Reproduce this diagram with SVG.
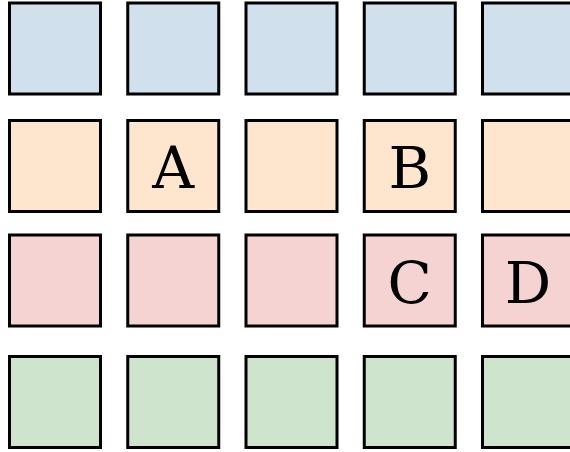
<svg xmlns="http://www.w3.org/2000/svg" width="570" height="452" viewBox="0 0 570 452">
<style>
rect{stroke:#000;stroke-width:3}
.b{fill:#d0e0ed}.o{fill:#fee5cd}.p{fill:#f5d3d3}.g{fill:#cfe4cc}
text{font-family:"DejaVu Serif",serif;font-size:58px;text-anchor:middle;fill:#000}
</style>
<rect width="570" height="452" fill="#fff" style="stroke:none"/>
<g id="r1">
<rect class="b" x="9.5" y="3" width="91" height="91"/>
<rect class="b" x="127.75" y="3" width="91" height="91"/>
<rect class="b" x="246" y="3" width="91" height="91"/>
<rect class="b" x="364.25" y="3" width="91" height="91"/>
<rect class="b" x="482.5" y="3" width="91" height="91"/>
</g>
<g id="r2">
<rect class="o" x="9.5" y="120.5" width="91" height="91"/>
<g id="A"><rect class="o" x="127.75" y="120.5" width="91" height="91"/><text x="173.25" y="188">A</text></g>
<rect class="o" x="246" y="120.5" width="91" height="91"/>
<g id="B"><rect class="o" x="364.25" y="120.5" width="91" height="91"/><text x="409.75" y="188">B</text></g>
<rect class="o" x="482.5" y="120.5" width="91" height="91"/>
</g>
<g id="r3">
<rect class="p" x="9.5" y="235" width="91" height="91"/>
<rect class="p" x="127.75" y="235" width="91" height="91"/>
<rect class="p" x="246" y="235" width="91" height="91"/>
<g id="C"><rect class="p" x="364.25" y="235" width="91" height="91"/><text x="409.75" y="302.5">C</text></g>
<g id="D"><rect class="p" x="482.5" y="235" width="91" height="91"/><text x="528" y="302.5">D</text></g>
</g>
<g id="r4">
<rect class="g" x="9.5" y="356.5" width="91" height="91"/>
<rect class="g" x="127.75" y="356.5" width="91" height="91"/>
<rect class="g" x="246" y="356.5" width="91" height="91"/>
<rect class="g" x="364.25" y="356.5" width="91" height="91"/>
<rect class="g" x="482.5" y="356.5" width="91" height="91"/>
</g>
<g id="connectors"/>
</svg>
